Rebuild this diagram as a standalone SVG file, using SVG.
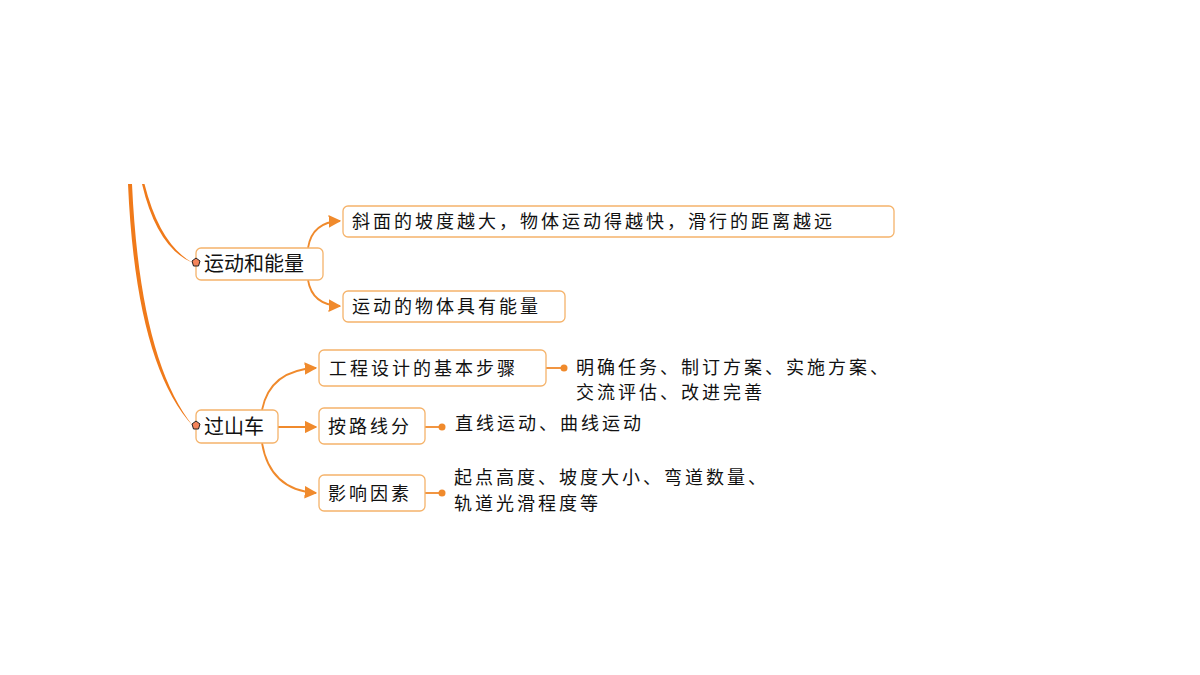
<svg xmlns="http://www.w3.org/2000/svg" width="1200" height="675" viewBox="0 0 1200 675">
<style>
.box{fill:#fff;stroke:#f5b36b;stroke-width:1.3}
.c{fill:none;stroke:#f08a2c;stroke-width:1.8}
.m{font-family:"Noto Sans CJK SC",sans-serif;font-size:20px;fill:#111}
.t{font-family:"Noto Sans CJK SC",sans-serif;font-size:18px;fill:#111;letter-spacing:3px}
.dot{fill:#f08a2c}
.star{fill:#f4845a;stroke:#222;stroke-width:1}
</style>
<defs><marker id="a" viewBox="0 0 10 10" refX="9" refY="5" markerWidth="7" markerHeight="7" orient="auto"><path d="M0,0 L10,5 L0,10 z" fill="#f08a2c"/></marker></defs>
<rect width="1200" height="675" fill="#fff"/>
<g id="connectors">
<path d="M128,184 L132,184 Q140,360 193,426 Q136,365 128,184 z" fill="#f07a1a"/>
<path d="M142,184 L144.5,184 Q160,245 193,263 Q157,248 142,184 z" fill="#f07a1a"/>
<path class="c" d="M308,248 Q312,222 340,221" marker-end="url(#a)"/>
<path class="c" d="M308,280 Q312,305 340,306" marker-end="url(#a)"/>
<path class="c" d="M262,410 Q270,370 316,368" marker-end="url(#a)"/>
<path class="c" d="M278,427 L316,427" marker-end="url(#a)"/>
<path class="c" d="M262,443 Q270,490 316,493" marker-end="url(#a)"/>
<path class="c" d="M546,368 L563,368" stroke-width="1.2"/><circle class="dot" cx="564" cy="368" r="3.5"/>
<path class="c" d="M425,427 L441,427" stroke-width="1.2"/><circle class="dot" cx="442" cy="427" r="3.5"/>
<path class="c" d="M425,493 L441,493" stroke-width="1.2"/><circle class="dot" cx="442" cy="493" r="3.5"/>
</g>
<g id="n1"><rect class="box" x="196" y="248" width="127" height="32" rx="5"/><path class="star" d="M196,258 l4,3 -1.5,5 h-5 l-1.5,-5 z"/><text class="m" x="204" y="271">运动和能量</text></g>
<g id="n2"><rect class="box" x="196" y="410" width="82" height="33" rx="5"/><path class="star" d="M196,421 l4,3 -1.5,5 h-5 l-1.5,-5 z"/><text class="m" x="204" y="434">过山车</text></g>
<g id="c1"><rect class="box" x="343" y="206" width="551" height="31" rx="5"/><text class="t" x="352" y="228">斜面的坡度越大，物体运动得越快，滑行的距离越远</text></g>
<g id="c2"><rect class="box" x="343" y="291" width="222" height="31" rx="5"/><text class="t" x="352" y="313">运动的物体具有能量</text></g>
<g id="c3"><rect class="box" x="319" y="350" width="227" height="36" rx="5"/><text class="t" x="329" y="375">工程设计的基本步骤</text></g>
<g id="c4"><rect class="box" x="319" y="408" width="106" height="36" rx="5"/><text class="t" x="328" y="433">按路线分</text></g>
<g id="c5"><rect class="box" x="319" y="475" width="106" height="36" rx="5"/><text class="t" x="328" y="500">影响因素</text></g>
<g id="l1"><text class="t" x="576" y="374">明确任务、制订方案、实施方案、</text><text class="t" x="576" y="399">交流评估、改进完善</text></g>
<g id="l2"><text class="t" x="455" y="430">直线运动、曲线运动</text></g>
<g id="l3"><text class="t" x="454" y="484">起点高度、坡度大小、弯道数量、</text><text class="t" x="454" y="510">轨道光滑程度等</text></g>
</svg>
